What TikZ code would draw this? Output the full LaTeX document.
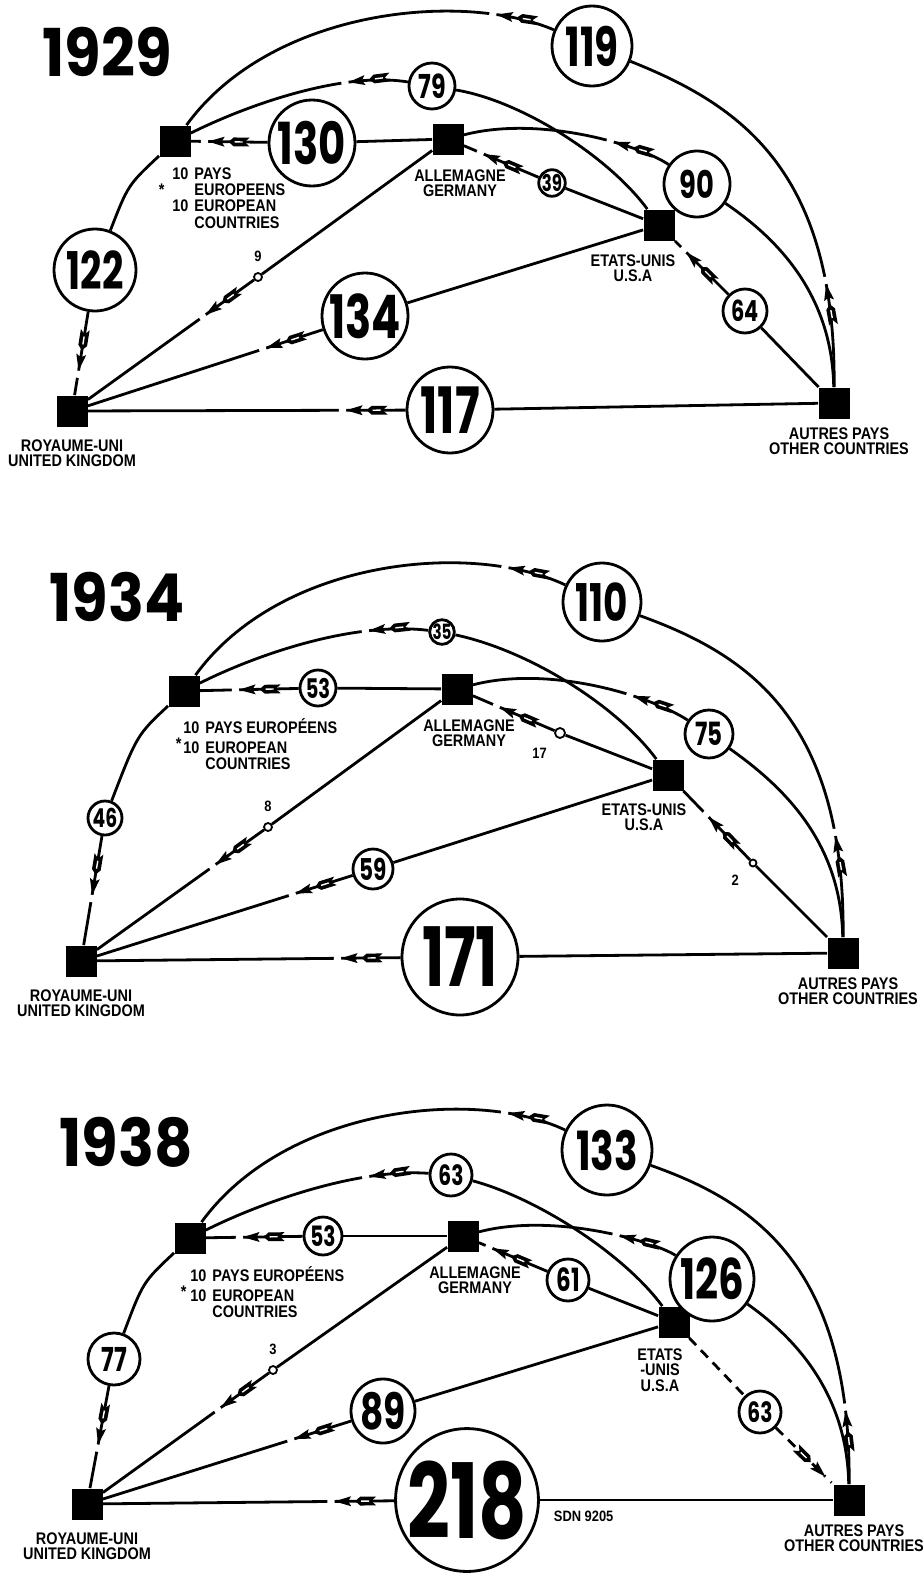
\documentclass[tikz,border=0pt]{standalone}
\usepackage{fontspec}
\usetikzlibrary{positioning,decorations.markings}
\newfontfamily\valfont[FakeStretch=0.72]{Poppins}
\newfontfamily\yearfont[FakeStretch=0.9]{Poppins}
\newfontfamily\tagfont[FakeStretch=0.86]{Liberation Sans}
\newcommand{\tagtext}{\tagfont\bfseries\fontsize{8.4}{7.8}\selectfont}
\newcommand{\smalltext}{\tagfont\bfseries\fontsize{7.5}{7.5}\selectfont}
% arrow mark drawn along a flow: tip at the origin, pointing forward
\newcommand{\dartmark}{%
  \fill[white] (0.8pt,-1.9pt) rectangle (4.4pt,1.9pt);
  \fill (0.8pt,0pt) -- (-7.5pt,2.5pt) -- (-6pt,0pt) -- (-7.5pt,-2.5pt) -- cycle;
  \fill (-9.5pt,0pt) -- (-12pt,2.2pt) -- (-20pt,2.2pt) -- (-17.5pt,0pt) -- (-20pt,-2.2pt) -- (-12pt,-2.2pt) -- cycle;
  \draw[solid,white,line width=0.7pt] (-12.5pt,0pt) -- (-16.5pt,0pt);}
\tikzset{
  land/.style={fill=black,minimum size=15.5pt,inner sep=0pt},
  val/.style={circle,draw,fill=white,line width=1.4pt,inner sep=0pt,font=\valfont\bfseries\fontsize{#1}{#1}\selectfont},
  tap/.style={circle,draw,fill=white,line width=0.9pt,inner sep=0pt,minimum size=4pt},
  flow/.style={line width=1.4pt},
  dart/.style={postaction={decorate,decoration={markings,mark=at position #1 with {\dartmark}}}},
  dart/.default=29pt,
  place/.style={font=\tagtext,align=center,inner sep=0pt},
  year/.style={font=\yearfont\bfseries\fontsize{33}{33}\selectfont,inner sep=0pt}
}

\begin{document}
\begin{tikzpicture}[x=0.5pt,y=-0.5pt]
\useasboundingbox[fill=white] (0,0) rectangle (923,1574);

% ---------------- 1929
\begin{scope}
\node[year] (y29) at (107,52) {1929};
\node[land] (eu29) at (175,141) {};
\node[land] (de29) at (448,139) {};
\node[land] (us29) at (659,225) {};
\node[land] (uk29) at (72,411) {};
\node[land] (ot29) at (834,403) {};
\node[place,anchor=north west] (eu29t) at (172,167) {\begin{tabular}{@{}l@{\hspace{3pt}}l@{}}10&PAYS\\\llap{*\hspace{4pt}}&EUROPEENS\\10&EUROPEAN\\&COUNTRIES\end{tabular}};
\node[place,below=7pt of de29,xshift=6pt] (de29t) {ALLEMAGNE\\GERMANY};
\node[place,below=6.5pt of us29,xshift=-13pt] (us29t) {ETATS-UNIS\\U.S.A};
\node[place,below=6pt of uk29] (uk29t) {ROYAUME-UNI\\UNITED KINGDOM};
\node[place,below=4pt of ot29,xshift=2.5pt] (ot29t) {AUTRES PAYS\\OTHER COUNTRIES};

\node[val=27,minimum size=40pt] (a119) at (592,46) {119};
\node[val=16.5,minimum size=23pt] (a79) at (432,86) {79};
\node[val=29,minimum size=43pt] (a130) at (312,143) {130};
\node[val=19,minimum size=33pt] (a90) at (697,184) {90};
\node[val=11.5,minimum size=12.5pt] (a39) at (552,183) {39};
\node[val=26,minimum size=41pt] (a122) at (95,270) {122};
\node[tap] (a9) at (258,277) {};
\node[font=\smalltext,above=1.5pt of a9] (a9t) {9};
\node[val=30,minimum size=43pt] (a134) at (365,316) {134};
\node[val=14.5,minimum size=22pt] (a64) at (745,311) {64};
\node[val=32,minimum size=43pt] (a117) at (450,410) {117};

\draw[flow,dart=51pt] (ot29) .. controls (836,170) and (740,105) .. (a119);
\draw[flow,dart] (a119) .. controls (460,-10) and (270,10) .. (eu29);
\draw[flow] (us29) .. controls (609,157) and (522,101) .. (a79);
\draw[flow,dart] (a79) .. controls (342,71) and (245,106) .. (eu29);
\draw[flow] (de29) -- (a130);
\draw[flow,dart] (a130) -- (eu29);
\draw[flow] (ot29) .. controls (832,290) and (772,235) .. (a90);
\draw[flow,dart] (a90) .. controls (640,145) and (540,115) .. (de29);
\draw[flow] (us29) -- (a39);
\draw[flow,dart] (a39) -- (de29);
\draw[flow] (eu29) .. controls (128,185) .. (a122);
\draw[flow,dart] (a122) -- (uk29);
\draw[flow] (de29) -- (a9);
\draw[flow,dart] (a9) -- (uk29);
\draw[flow] (us29) -- (a134);
\draw[flow,dart] (a134) -- (uk29);
\draw[flow] (ot29) -- (a64);
\draw[flow,dart] (a64) -- (us29);
\draw[flow] (ot29) -- (a117);
\draw[flow,dart] (a117) -- (uk29);
\end{scope}

% ---------------- 1934
\begin{scope}[shift={(9,550)}]
\node[year] (y34) at (108,47) {1934};
\node[land] (eu34) at (175,141) {};
\node[land] (de34) at (448,139) {};
\node[land] (us34) at (659,225) {};
\node[land] (uk34) at (72,411) {};
\node[land] (ot34) at (834,403) {};
\node[place,anchor=north west] (eu34t) at (174,168) {\begin{tabular}{@{}l@{\hspace{3pt}}l@{}}10&PAYS EUROPÉENS\\\llap{\raisebox{2pt}{*}\hspace{1pt}}10&EUROPEAN\\&COUNTRIES\end{tabular}};
\node[place,below=7pt of de34,xshift=6pt] (de34t) {ALLEMAGNE\\GERMANY};
\node[place,below=6pt of us34,xshift=-12pt] (us34t) {ETATS-UNIS\\U.S.A};
\node[place,below=6pt of uk34] (uk34t) {ROYAUME-UNI\\UNITED KINGDOM};
\node[place,below=4pt of ot34,xshift=2.5pt] (ot34t) {AUTRES PAYS\\OTHER COUNTRIES};

\node[val=26,minimum size=39pt] (b110) at (593,52) {110};
\node[val=10.5,minimum size=12pt] (b35) at (433,82) {35};
\node[val=13.5,minimum size=18pt] (b53) at (309,138) {53};
\node[val=16,minimum size=24pt] (b75) at (700,184) {75};
\node[tap,minimum size=5pt] (b17) at (551,183) {};
\node[font=\smalltext,below left=2pt and 1pt of b17] (b17t) {17};
\node[val=13,minimum size=17pt] (b46) at (96,268) {46};
\node[tap] (b8) at (259,277) {};
\node[font=\smalltext,above=1.5pt of b8] (b8t) {8};
\node[val=15,minimum size=20pt] (b59) at (364,319) {59};
\node[tap,minimum size=3.5pt] (b2) at (744,313) {};
\node[font=\smalltext,below left=1pt and 2pt of b2] (b2t) {2};
\node[val=41,minimum size=58pt] (b171) at (451,407) {171};

\draw[flow,dart=50pt] (ot34) .. controls (836,170) and (740,105) .. (b110);
\draw[flow,dart] (b110) .. controls (460,-10) and (270,10) .. (eu34);
\draw[flow] (us34) .. controls (609,157) and (522,101) .. (b35);
\draw[flow,dart] (b35) .. controls (342,71) and (245,106) .. (eu34);
\draw[flow] (de34) -- (b53);
\draw[flow,dart] (b53) -- (eu34);
\draw[flow] (ot34) .. controls (832,290) and (772,235) .. (b75);
\draw[flow,dart] (b75) .. controls (640,145) and (540,115) .. (de34);
\draw[flow] (us34) -- (b17);
\draw[flow,dart] (b17) -- (de34);
\draw[flow] (eu34) .. controls (128,185) .. (b46);
\draw[flow,dart] (b46) -- (uk34);
\draw[flow] (de34) -- (b8);
\draw[flow,dart] (b8) -- (uk34);
\draw[flow] (us34) -- (b59);
\draw[flow,dart] (b59) -- (uk34);
\draw[flow] (ot34) -- (b2);
\draw[flow,dart] (b2) -- (us34);
\draw[flow] (ot34) -- (b171);
\draw[flow,dart] (b171) -- (uk34);
\end{scope}

% ---------------- 1938
\begin{scope}[shift={(15,1097)}]
\node[year] (y38) at (111,45) {1938};
\node[land] (eu38) at (175,141) {};
\node[land] (de38) at (448,139) {};
\node[land] (us38) at (659,225) {};
\node[land] (uk38) at (72,407) {};
\node[land] (ot38) at (834,403) {};
\node[place,anchor=north west] (eu38t) at (175,169) {\begin{tabular}{@{}l@{\hspace{3pt}}l@{}}10&PAYS EUROPÉENS\\\llap{\raisebox{2pt}{*}\hspace{2pt}}10&EUROPEAN\\&COUNTRIES\end{tabular}};
\node[place,below=7pt of de38,xshift=6pt] (de38t) {ALLEMAGNE\\GERMANY};
\node[place,below=5pt of us38,xshift=-7pt] (us38t) {ETATS\\-UNIS\\U.S.A};
\node[place,below=6pt of uk38] (uk38t) {ROYAUME-UNI\\UNITED KINGDOM};
\node[place,below=4pt of ot38,xshift=2.5pt] (ot38t) {AUTRES PAYS\\OTHER COUNTRIES};

\node[val=27,minimum size=45pt] (c133) at (592,53) {133};
\node[val=14,minimum size=21pt] (c63e) at (436,78) {63};
\node[val=14,minimum size=19pt] (c53) at (308,139) {53};
\node[val=28,minimum size=42pt] (c126) at (697,182) {126};
\node[val=16,minimum size=21pt] (c61) at (553,183) {61};
\node[val=16.5,minimum size=26pt] (c77) at (99,262) {77};
\node[tap] (c3) at (258,273) {};
\node[font=\smalltext,above=1.5pt of c3] (c3t) {3};
\node[val=25,minimum size=32pt] (c89) at (368,314) {89};
\node[val=14,minimum size=21pt] (c63o) at (745,315) {63};
\node[val=52,minimum size=71pt] (c218) at (452,403) {218};
\node[font=\smalltext,right=3.5pt of c218,yshift=-8pt] (c218t) {SDN 9205};

\draw[flow,dart=36pt] (ot38) .. controls (836,170) and (740,105) .. (c133);
\draw[flow,dart] (c133) .. controls (460,-10) and (270,10) .. (eu38);
\draw[flow] (us38) .. controls (609,157) and (522,101) .. (c63e);
\draw[flow,dart] (c63e) .. controls (342,71) and (245,106) .. (eu38);
\draw[flow] (de38) -- (c53);
\draw[flow,dart] (c53) -- (eu38);
\draw[flow] (ot38) .. controls (832,290) and (772,235) .. (c126);
\draw[flow,dart] (c126) .. controls (640,145) and (540,115) .. (de38);
\draw[flow] (us38) -- (c61);
\draw[flow,dart] (c61) -- (de38);
\draw[flow] (eu38) .. controls (128,185) .. (c77);
\draw[flow,dart] (c77) -- (uk38);
\draw[flow] (de38) -- (c3);
\draw[flow,dart] (c3) -- (uk38);
\draw[flow] (us38) -- (c89);
\draw[flow,dart] (c89) -- (uk38);
\draw[flow,dash pattern=on 5pt off 3.5pt] (us38) -- (c63o);
\draw[flow,dash pattern=on 5pt off 3.5pt,dart=34pt] (c63o) -- (ot38);
\draw[flow] (ot38) -- (c218);
\draw[flow,dart] (c218) -- (uk38);
\end{scope}
\end{tikzpicture}
\end{document}
